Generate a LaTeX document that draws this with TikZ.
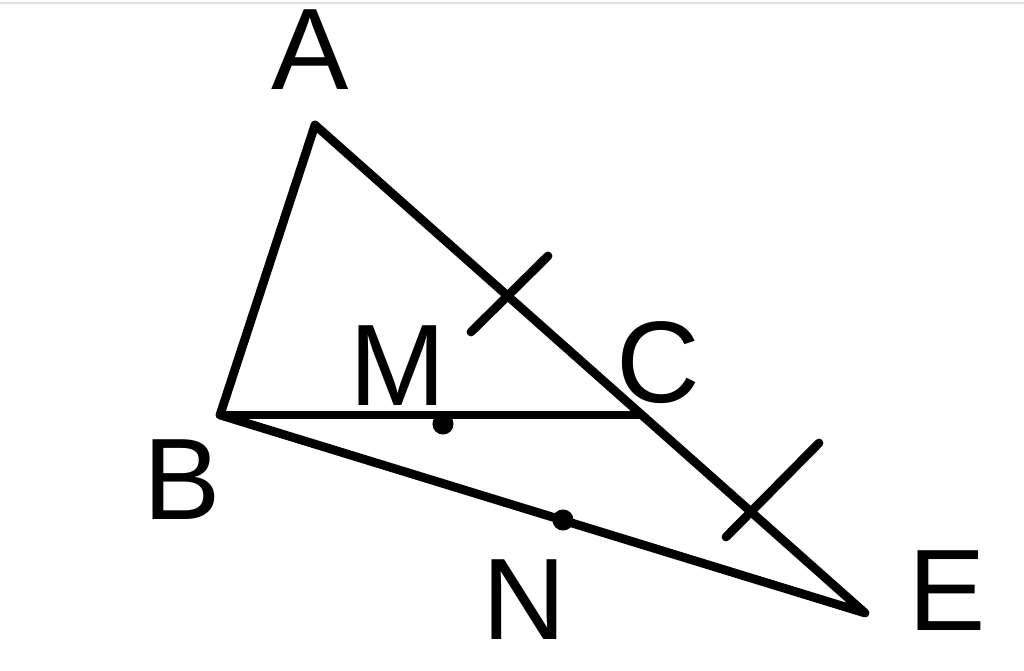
\documentclass[tikz,border=0pt]{standalone}
\usepackage{fontspec}
\setsansfont{Liberation Sans}
\begin{document}
\begin{tikzpicture}[x=0.02cm, y=-0.02cm, line width=5pt, line cap=round, line join=round,
  lbl/.style={font=\sffamily\fontsize{66}{66}\selectfont, inner sep=0pt},
  dot/.style={circle, fill=black, inner sep=0pt, minimum size=12pt}]
  \useasboundingbox (0,0) rectangle (1024,671);
  \draw[line width=0.6pt, black!12] (0,3) -- (1024,3);
  % points
  \coordinate (A) at (315,125);
  \coordinate (B) at (220,415);
  \coordinate (C) at (640,415);
  \coordinate (E) at (865,613);
  \node[dot] (M) at (443,424) {};
  \node[dot] (N) at (563,520) {};
  % triangle and segments
  \draw (A) -- (B) -- (E) -- cycle;
  \draw (B) -- (C);
  % equal marks
  \coordinate (t1a) at (471,332);
  \coordinate (t1b) at (548,256);
  \coordinate (t2a) at (726,537);
  \coordinate (t2b) at (819,443);
  \draw (t1a) -- (t1b);
  \draw (t2a) -- (t2b);
  % labels
  \node[lbl] (lA) at (310,50) {A};
  \node[lbl] (lB) at (182,480) {B};
  \node[lbl] (lM) at (398,366) {M};
  \node[lbl] (lC) at (658,363) {C};
  \node[lbl] (lN) at (524,600) {N};
  \node[lbl] (lE) at (947,591) {E};
\end{tikzpicture}
\end{document}
